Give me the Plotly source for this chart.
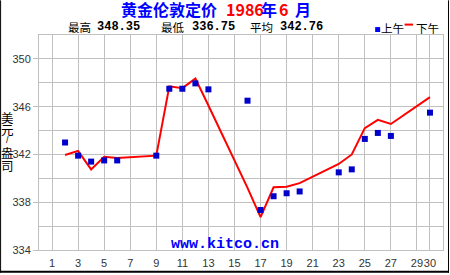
import plotly.graph_objects as go

# ---- data ----
days = [2, 3, 4, 5, 6, 9, 10, 11, 12, 13, 16, 17, 18, 19, 20, 23, 24, 25, 26, 27, 30]
am_prices = [343.0, 341.9, 341.4, 341.5, 341.5, 341.9, 347.5, 347.5, 347.95, 347.45, 346.5,
             337.35, 338.5, 338.75, 338.9, 340.5, 340.75, 343.3, 343.8, 343.55, 345.5]
pm_prices = [341.95, 342.3, 340.75, 341.8, 341.7, 341.9, 347.7, 347.55, 348.35, 346.1, 339.2,
             336.75, 339.25, 339.3, 339.6, 341.2, 342.0, 344.2, 344.9, 344.55, 346.8]
x_tick_vals = [1, 3, 5, 7, 9, 11, 13, 15, 17, 19, 21, 23, 25, 27, 29, 30]
x_tick_text = [str(v) for v in x_tick_vals]
y_tick_vals = [334, 338, 342, 346, 350]
y_minor_vals = [336, 340, 344, 348]
stat_labels = ["最高", "最低", "平均"]
stat_values = ["348.35", "336.75", "342.76"]
title_parts = ["黄金伦敦定价", "1986", "年", "6", "月"]

W, H = 450, 275
L, R, T, B = 39, 6, 35, 23
PW, PH = W - L - R, H - T - B


def px(x):
    return (x - L) / PW


def py(y):
    return (H - B - y) / PH


CJK = "Noto Sans CJK SC"
BLUE = "#0000FF"
RED = "#FF0000"

fig = go.Figure()
fig.add_trace(go.Scatter(x=days, y=pm_prices, mode="lines",
                         line=dict(color=RED, width=2), hoverinfo="skip"))
fig.add_trace(go.Scatter(x=days, y=am_prices, mode="markers",
                         marker=dict(symbol="square", size=6, color="#0000CC",
                                     line=dict(width=0)), hoverinfo="skip"))

ann = []
title_x = [120, 225.5, 261, 279, 295]
title_col = [BLUE, RED, BLUE, RED, BLUE]
for part, tx, tc in zip(title_parts, title_x, title_col):
    ann.append(dict(text=f"<b>{part}</b>", x=px(tx), y=py(9), xref="paper", yref="paper",
                    xanchor="left", yanchor="middle", showarrow=False, borderpad=0,
                    font=dict(family=CJK, size=16, color=tc)))

label_x = [67, 160.5, 249.5]
value_x = [96.5, 191.5, 280]
for lab, lx, val, vx in zip(stat_labels, label_x, stat_values, value_x):
    ann.append(dict(text=lab, x=px(lx), y=py(26.5), xref="paper", yref="paper",
                    xanchor="left", yanchor="middle", showarrow=False, borderpad=0,
                    font=dict(family=CJK, size=11.5, color="#000000")))
    ann.append(dict(text=f"<b>{val}</b>", x=px(vx), y=py(26.5), xref="paper", yref="paper",
                    xanchor="left", yanchor="middle", showarrow=False, borderpad=0,
                    font=dict(family="Liberation Mono", size=12, color="#000000")))

# legend texts
ann.append(dict(text="上午", x=px(381), y=py(27.5), xref="paper", yref="paper",
                xanchor="left", yanchor="middle", showarrow=False, borderpad=0,
                font=dict(family=CJK, size=11.5, color="#000000")))
ann.append(dict(text="下午", x=px(415.5), y=py(27.5), xref="paper", yref="paper",
                xanchor="left", yanchor="middle", showarrow=False, borderpad=0,
                font=dict(family=CJK, size=11.5, color="#000000")))

# vertical y-axis title
for ch, cy, fam, fs in zip(["美", "元", "/", "盎", "司"], [118.5, 130.5, 141, 154, 166.5],
                           [CJK, CJK, "Liberation Sans", CJK, CJK], [12.5, 12.5, 9, 12.5, 12.5]):
    ann.append(dict(text=ch, x=px(7.5), y=py(cy), xref="paper", yref="paper",
                    xanchor="center", yanchor="middle", showarrow=False, borderpad=0,
                    font=dict(family=fam, size=fs, color="#000000")))

# watermark
ann.append(dict(text="<b>www.kitco.cn</b>", x=px(225.5), y=py(246), xref="paper", yref="paper",
                xanchor="center", yanchor="middle", showarrow=False,
                font=dict(family="Liberation Mono", size=15, color=BLUE)))

shapes = [
    dict(type="rect", xref="paper", yref="paper", x0=px(376), x1=px(381), y0=py(27), y1=py(32),
         fillcolor=BLUE, line=dict(width=0)),
    dict(type="line", xref="paper", yref="paper", x0=px(405.5), x1=px(414), y0=py(24.5), y1=py(24.5),
         line=dict(color=RED, width=2)),
    # outer frame (left, right, bottom)
    dict(type="line", xref="paper", yref="paper", x0=px(0.5), x1=px(0.5), y0=py(0), y1=py(275),
         line=dict(color="#000000", width=1)),
    dict(type="line", xref="paper", yref="paper", x0=px(449.5), x1=px(449.5), y0=py(0), y1=py(275),
         line=dict(color="#000000", width=1)),
    dict(type="line", xref="paper", yref="paper", x0=px(0), x1=px(450), y0=py(274), y1=py(274),
         line=dict(color="#000000", width=2)),
]

GRID = "#C0C0C0"
fig.update_layout(
    width=W, height=H,
    margin=dict(l=L, r=R, t=T, b=B, pad=0),
    paper_bgcolor="white", plot_bgcolor="white",
    showlegend=False,
    annotations=ann, shapes=shapes,
    xaxis=dict(range=[0, 31], tickvals=x_tick_vals, ticktext=x_tick_text, tickangle=0,
               showgrid=True, gridcolor=GRID, gridwidth=1, zeroline=False,
               showline=True, linecolor=GRID, linewidth=1, mirror=True,
               ticks="", tickfont=dict(family="Liberation Sans", size=11, color="#333333"),
               ticklabelstandoff=3),
    yaxis=dict(range=[334, 352], tickvals=y_tick_vals,
               showgrid=True, gridcolor=GRID, gridwidth=1, zeroline=False,
               showline=True, linecolor=GRID, linewidth=1, mirror=True,
               ticks="outside", ticklen=5, tickcolor=GRID,
               tickfont=dict(family="Liberation Sans", size=11, color="#333333"),
               minor=dict(tickvals=y_minor_vals, showgrid=True, gridcolor=GRID, gridwidth=1)),
)

fig.write_html("out.html")
